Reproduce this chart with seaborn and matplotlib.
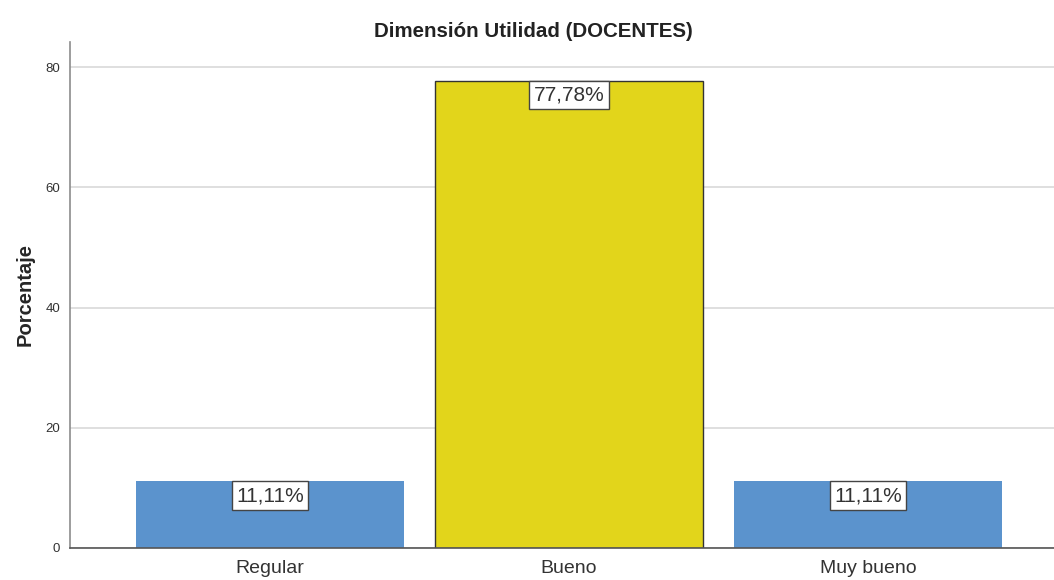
import matplotlib
matplotlib.use('Agg')
import matplotlib.pyplot as plt
import seaborn as sns
import pandas as pd

# data
categorias = ['Regular', 'Bueno', 'Muy bueno']
porcentajes = [11.11, 77.78, 11.11]
etiquetas = ['11,11%', '77,78%', '11,11%']
colores = ['#5B93CD', '#E2D51B', '#5B93CD']

sns.set_style('white')
plt.rcParams['font.family'] = ['Liberation Sans', 'DejaVu Sans']

df = pd.DataFrame({'cat': categorias, 'pct': porcentajes})

fig = plt.figure(figsize=(10.54, 5.80), dpi=100)
ax = fig.add_axes([0.0664, 0.0552, 0.9336, 0.8724])

sns.barplot(data=df, x='cat', y='pct', hue='cat', palette=colores,
            width=0.897, saturation=1, legend=False, ax=ax)

# only the middle bar has a dark outline
for i, bar in enumerate(ax.patches):
    if categorias[i] == 'Bueno':
        bar.set_edgecolor('#333333')
        bar.set_linewidth(1.0)
    else:
        bar.set_edgecolor('none')

ax.set_xlim(-0.669, 2.622)
ax.set_ylim(0, 84.2)
ax.set_yticks([0, 20, 40, 60, 80])
ax.yaxis.grid(True, color='#d9d9d9', linewidth=1.2)
ax.set_axisbelow(True)

for s in ['top', 'right']:
    ax.spines[s].set_visible(False)
ax.spines['left'].set_color('#8c8c8c')
ax.spines['bottom'].set_color('#555555')
ax.spines['left'].set_linewidth(1.2)
ax.spines['bottom'].set_linewidth(1.2)

ax.tick_params(axis='y', length=0, pad=7, labelsize=9.5, labelcolor='#333333')
ax.tick_params(axis='x', length=0, pad=9, labelsize=14, labelcolor='#333333')

ax.set_xlabel('')
ax.set_ylabel('Porcentaje', fontsize=14.5, fontweight='bold', labelpad=8)
fig.text(0.506, 0.945, 'Dimensión Utilidad (DOCENTES)', fontsize=14.8,
         fontweight='bold', ha='center', va='center', color='#222222')

# value labels in white boxes hanging from the top of each bar
for i, bar in enumerate(ax.patches):
    x = bar.get_x() + bar.get_width() / 2
    y = bar.get_height()
    ax.annotate(etiquetas[i], (x, y), xytext=(0, -3.5), textcoords='offset points',
                ha='center', va='top', fontsize=15, color='#333333',
                bbox=dict(boxstyle='square,pad=0.22', facecolor='white',
                          edgecolor='#444444', linewidth=1))

plt.savefig('out.png', dpi=100)
